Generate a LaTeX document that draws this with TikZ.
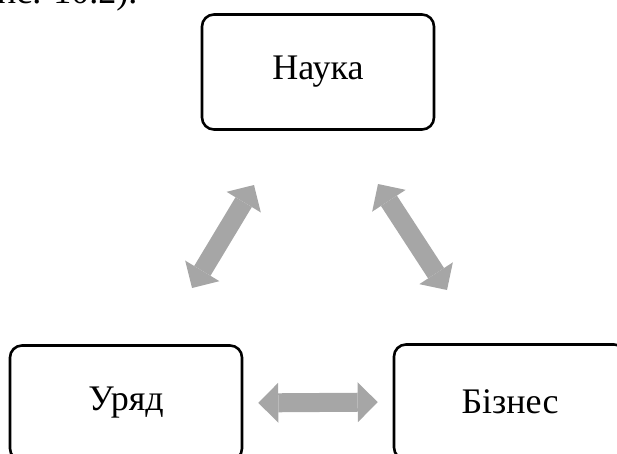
\documentclass[tikz,border=0pt]{standalone}
\usepackage{fontspec}
\setmainfont{Liberation Serif}
\usetikzlibrary{arrows.meta}
\definecolor{arrowGray}{HTML}{A6A6A6}
\begin{document}
\begin{tikzpicture}[x=1pt, y=-1pt,
    boxStyle/.style={rectangle, draw, line width=2.6pt, rounded corners=12pt, minimum width=232pt, minimum height=115pt, font=\fontsize{36}{43}\selectfont},
    arrowStyle/.style={draw=arrowGray, line width=19pt, {Triangle[length=20pt, width=40pt, line width=0pt]}-{Triangle[length=20pt, width=40pt, line width=0pt]}}]
    \useasboundingbox (0,0) rectangle (617,453);
    \node[anchor=base west, inner sep=0pt, font=\fontsize{36}{43}\selectfont] (caption) at (-3,3) {ис. 10.2).};

    \node[boxStyle] (nauka)  at (318, 72) {Наука};
    \node[boxStyle] (uriad)  at (126,403) {Уряд};
    \node[boxStyle] (biznes) at (510,402) {Бізнес};

    \coordinate (nauka_L) at (254,185);
    \coordinate (nauka_R) at (378,184);
    \coordinate (uriad_T) at (192,288);
    \coordinate (biznes_T) at (447,290);

    \draw[arrowStyle] (uriad_T) -- (nauka_L);
    \draw[arrowStyle] (nauka_R) -- (biznes_T);
    \draw[arrowStyle, shorten <=15pt, shorten >=15pt] (uriad.east) -- (biznes.west);
\end{tikzpicture}
\end{document}
